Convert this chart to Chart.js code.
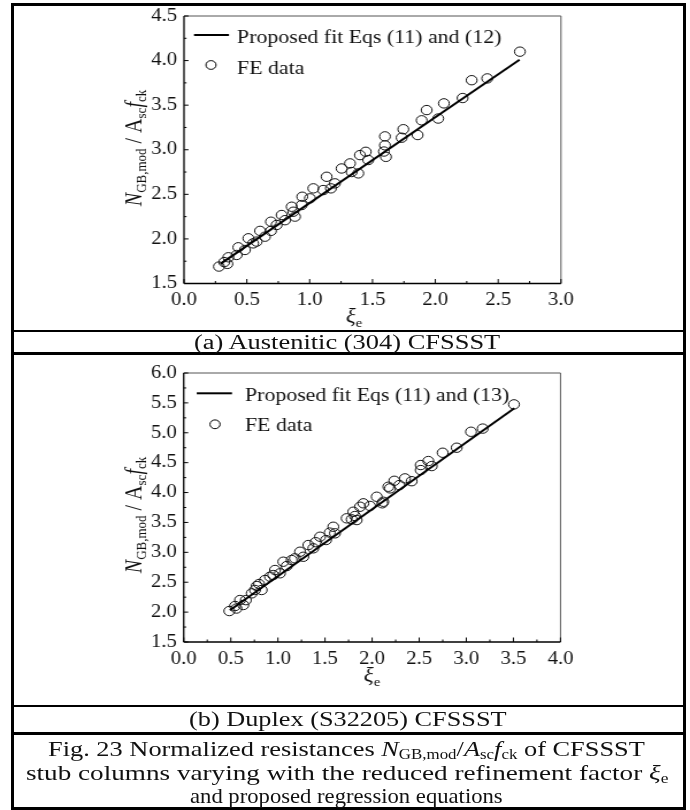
<!DOCTYPE html>
<html>
<head>
<meta charset="utf-8">
<script src="https://cdn.jsdelivr.net/npm/chart.js@4.4.1/dist/chart.umd.min.js"></script>
<style>
  html, body { margin: 0; padding: 0; background: #fff; }
  #page { position: relative; width: 690px; height: 810px; overflow: hidden;
          font-family: "Liberation Serif", "Times New Roman", serif; color: #111; }
  .rule { position: absolute; background: #000; }
  .wrap { position: absolute; left: 0; width: 600px; transform: scaleX(1.15); transform-origin: 0 0; }
  .wrap canvas { display: block; }
  .txt { position: absolute; white-space: nowrap; font-size: 20px; line-height: 20px; transform-origin: 0 50%; }
  .txt.cap { font-size: 22px; line-height: 22px; }
  .txt sub { font-size: 0.64em; vertical-align: -0.2em; line-height: 0; }
</style>
</head>
<body>
<div id="page">
  <div class="wrap" style="top:0;height:330px"><canvas id="graficoA" width="600" height="330"></canvas></div>
  <div class="wrap" style="top:354px;height:350px"><canvas id="graficoB" width="600" height="350"></canvas></div>

  <!-- table rules -->
  <div class="rule" style="left:10.5px;top:3px;width:675px;height:3px"></div>
  <div class="rule" style="left:10.5px;top:806.5px;width:675px;height:3px"></div>
  <div class="rule" style="left:10.5px;top:3px;width:3px;height:806.5px"></div>
  <div class="rule" style="left:682.5px;top:3px;width:3px;height:806.5px"></div>
  <div class="rule" style="left:10.5px;top:329.5px;width:675px;height:2.5px"></div>
  <div class="rule" style="left:10.5px;top:352px;width:675px;height:2.5px"></div>
  <div class="rule" style="left:10.5px;top:704.5px;width:675px;height:2.5px"></div>
  <div class="rule" style="left:10.5px;top:732px;width:675px;height:2.5px"></div>

  <div class="txt" data-l="194.3" data-w="306.7" style="top:332px">(a) Austenitic (304) CFSSST</div>
  <div class="txt" data-l="189" data-w="318" style="top:709px">(b) Duplex (S32205) CFSSST</div>
  <div class="txt cap" data-l="48" data-w="597" style="top:738px">Fig. 23 Normalized resistances <i>N</i><sub>GB,mod</sub>/<i>A</i><sub>sc</sub><i>f</i><sub>ck</sub> of CFSSST</div>
  <div class="txt cap" data-l="26" data-w="642" style="top:762px">stub columns varying with the reduced refinement factor <i>ξ</i><sub>e</sub></div>
  <div class="txt cap" data-l="190" data-w="313" style="top:785px">and proposed regression equations</div>
</div>

<script>
// (a) Austenitic (304)
const fitXa = [0.29, 2.67];
const fitYa = [1.72, 4.01];
const feXa = [0.278, 0.32, 0.345, 0.353, 0.419, 0.432, 0.485, 0.512, 0.55, 0.578, 0.605, 0.644,
  0.692, 0.692, 0.737, 0.777, 0.804, 0.857, 0.87, 0.883, 0.936, 0.941, 1.002, 1.029, 1.108,
  1.135, 1.169, 1.201, 1.254, 1.321, 1.334, 1.387, 1.40, 1.446, 1.466, 1.591, 1.599, 1.599,
  1.607, 1.732, 1.745, 1.859, 1.891, 1.931, 2.023, 2.068, 2.217, 2.289, 2.413, 2.673];
const feYa = [1.69, 1.74, 1.72, 1.794, 1.82, 1.906, 1.876, 2.007, 1.95, 1.97, 2.09, 2.025,
  2.193, 2.09, 2.156, 2.268, 2.21, 2.361, 2.305, 2.25, 2.38, 2.473, 2.455, 2.567, 2.548,
  2.697, 2.567, 2.623, 2.79, 2.847, 2.75, 2.735, 2.94, 2.977, 2.885, 2.98, 3.15, 3.05,
  2.92, 3.135, 3.23, 3.165, 3.33, 3.445, 3.35, 3.52, 3.58, 3.78, 3.80, 4.10];
const xRangeA = [0, 3];
const yRangeA = [1.5, 4.5];
const legendA = ["Proposed fit Eqs (11) and (12)", "FE data"];

// (b) Duplex (S32205)
const fitXb = [0.49, 3.51];
const fitYb = [2.03, 5.41];
const feXb = [0.484, 0.545, 0.56, 0.598, 0.633, 0.66, 0.722, 0.757, 0.775, 0.80, 0.828, 0.863,
  0.916, 0.95, 0.969, 1.022, 1.057, 1.093, 1.146, 1.18, 1.235, 1.27, 1.323, 1.376, 1.40,
  1.447, 1.511, 1.55, 1.588, 1.606, 1.73, 1.783, 1.80, 1.818, 1.836, 1.872, 1.907, 1.978,
  2.049, 2.108, 2.119, 2.172, 2.19, 2.236, 2.289, 2.349, 2.42, 2.516, 2.516, 2.597, 2.633,
  2.749, 2.898, 3.05, 3.174, 3.506];
const feYb = [2.018, 2.102, 2.06, 2.202, 2.119, 2.20, 2.314, 2.37, 2.436, 2.47, 2.37, 2.537,
  2.592, 2.62, 2.704, 2.649, 2.843, 2.77, 2.871, 2.90, 3.01, 2.926, 3.122, 3.067, 3.17,
  3.261, 3.206, 3.33, 3.428, 3.318, 3.569, 3.552, 3.679, 3.607, 3.54, 3.763, 3.82, 3.776,
  3.93, 3.82, 3.846, 4.097, 4.07, 4.197, 4.125, 4.237, 4.19, 4.46, 4.376, 4.527, 4.443,
  4.666, 4.75, 5.017, 5.07, 5.475];
const xRangeB = [0, 4];
const yRangeB = [1.5, 6.0];
const legendB = ["Proposed fit Eqs (11) and (13)", "FE data"];

const K = 1.15; // the scanned figure is stretched sideways
const serif = "Liberation Serif";
const yTitle = [
  { t: "N", i: true }, { t: "GB,mod", sub: true }, { t: " / " },
  { t: "A" }, { t: "sc", sub: true }, { t: "f", i: true }, { t: "ck", sub: true },
];
const xTitle = [{ t: "ξ", i: true }, { t: "e", sub: true }];

const zip = (xs, ys) => xs.map((x, i) => ({ x, y: ys[i] }));

function drawRich(ctx, segs, cx, cy, angle) {
  ctx.save();
  ctx.translate(cx, cy);
  ctx.rotate(angle);
  ctx.fillStyle = "#111";
  ctx.textBaseline = "alphabetic";
  const fontOf = (s) => `${s.i ? "italic " : ""}${s.sub ? 13 : 20}px "${serif}"`;
  let total = 0;
  segs.forEach((s) => { ctx.font = fontOf(s); total += ctx.measureText(s.t).width; });
  let x = -total / 2;
  segs.forEach((s) => {
    ctx.font = fontOf(s);
    ctx.fillText(s.t, x, s.sub ? 4 : 0);
    x += ctx.measureText(s.t).width;
  });
  ctx.restore();
}

// frame, inward ticks, legend and axis titles
const decor = {
  id: "decor",
  afterDraw(chart, args, o) {
    const { ctx, chartArea: a, scales: { x, y } } = chart;
    ctx.save();
    const seg = (x1, y1, x2, y2) => { ctx.beginPath(); ctx.moveTo(x1, y1); ctx.lineTo(x2, y2); ctx.stroke(); };

    ctx.strokeStyle = "#555";
    ctx.lineWidth = 1;
    seg(a.left, a.top, a.right, a.top);
    seg(a.right, a.top, a.right, a.bottom);
    ctx.strokeStyle = "#000";
    ctx.lineWidth = 1.3;
    seg(a.left, a.top, a.left, a.bottom);
    seg(a.left, a.bottom, a.right, a.bottom);

    ctx.lineWidth = 1;
    x.ticks.forEach((t, i) => {
      const p = x.getPixelForValue(t.value);
      seg(p, a.bottom, p, a.bottom - 4.5);
      if (i < x.ticks.length - 1) {
        const m = x.getPixelForValue((t.value + x.ticks[i + 1].value) / 2);
        seg(m, a.bottom, m, a.bottom - 2.5);
      }
    });
    y.ticks.forEach((t, i) => {
      const p = y.getPixelForValue(t.value);
      seg(a.left, p, a.left + 4.5 / K, p);
      if (i < y.ticks.length - 1) {
        const m = y.getPixelForValue((t.value + y.ticks[i + 1].value) / 2);
        seg(a.left, m, a.left + 2.5 / K, m);
      }
    });

    // legend
    ctx.lineWidth = 2;
    seg(o.lineX[0] / K, o.lineY, o.lineX[1] / K, o.lineY);
    ctx.lineWidth = 1;
    ctx.beginPath();
    ctx.arc(o.dotX / K, o.dotY, 4.4, 0, Math.PI * 2);
    ctx.stroke();
    ctx.fillStyle = "#111";
    ctx.font = `19px "${serif}"`;
    ctx.textBaseline = "alphabetic";
    ctx.fillText(o.labels[0], o.textX / K, o.base[0]);
    ctx.fillText(o.labels[1], o.textX / K, o.base[1]);

    drawRich(ctx, yTitle, o.yTitle[0] / K, o.yTitle[1], -Math.PI / 2);
    drawRich(ctx, xTitle, o.xTitle[0] / K, o.xTitle[1], 0);
    ctx.restore();
  },
};

function eixos(xr, yr, left, right, top, bottom, h) {
  const tickFont = { family: serif, size: 18 };
  const fmt = (v) => v.toFixed(1);
  return {
    layout: { padding: { left: 0, right: 600 - right / K, top: top, bottom: 0 } },
    scales: {
      x: {
        type: "linear", min: xr[0], max: xr[1],
        grid: { display: false, drawTicks: false }, border: { display: false },
        ticks: { stepSize: 0.5, padding: 6, color: "#111", font: tickFont, callback: fmt, maxRotation: 0, autoSkip: false },
        afterFit(s) { s.height = h - bottom; s.paddingLeft = 0; s.paddingRight = 0; },
      },
      y: {
        type: "linear", min: yr[0], max: yr[1],
        grid: { display: false, drawTicks: false }, border: { display: false },
        ticks: { stepSize: 0.5, padding: 6, color: "#111", font: tickFont, callback: fmt, autoSkip: false },
        afterFit(s) { s.width = left / K; s.paddingTop = 0; s.paddingBottom = 0; },
      },
    },
  };
}

function series(fx, fy, ex, ey) {
  return {
    datasets: [
      { data: zip(fx, fy), showLine: true, borderColor: "#000", borderWidth: 2, pointRadius: 0, fill: false },
      { data: zip(ex, ey), pointRadius: 4.7, pointHoverRadius: 4.7, pointBorderWidth: 1,
        pointBorderColor: "#111", pointBackgroundColor: "rgba(0,0,0,0)" },
    ],
  };
}

// Grafico (a)
const ctxA = document.querySelector("#graficoA");
const axA = eixos(xRangeA, yRangeA, 184, 561, 16, 283.5, 330);
new Chart(ctxA, {
  type: "scatter",
  data: series(fitXa, fitYa, feXa, feYa),
  options: {
    responsive: false, animation: false, events: [],
    layout: axA.layout, scales: axA.scales,
    plugins: {
      legend: { display: false }, tooltip: { enabled: false },
      decor: { lineX: [194, 229], lineY: 35, dotX: 211, dotY: 65, textX: 237, base: [42.7, 74],
               labels: legendA, yTitle: [141, 148], xTitle: [354, 323] },
    },
  },
  plugins: [decor],
});

// Grafico (b)
const ctxB = document.querySelector("#graficoB");
const axB = eixos(xRangeB, yRangeB, 183.7, 560.5, 19, 288, 350);
new Chart(ctxB, {
  type: "scatter",
  data: series(fitXb, fitYb, feXb, feYb),
  options: {
    responsive: false, animation: false, events: [],
    layout: axB.layout, scales: axB.scales,
    plugins: {
      legend: { display: false }, tooltip: { enabled: false },
      decor: { lineX: [196.7, 232], lineY: 39.3, dotX: 215, dotY: 70.3, textX: 245, base: [47, 76.7],
               labels: legendB, yTitle: [141, 161], xTitle: [372, 328] },
    },
  },
  plugins: [decor],
});

// stretch the table captions to the widths seen in the figure
document.querySelectorAll(".txt").forEach((el) => {
  el.style.left = el.dataset.l + "px";
  el.style.transform = `scaleX(${+el.dataset.w / el.offsetWidth})`;
});
</script>
</body>
</html>
